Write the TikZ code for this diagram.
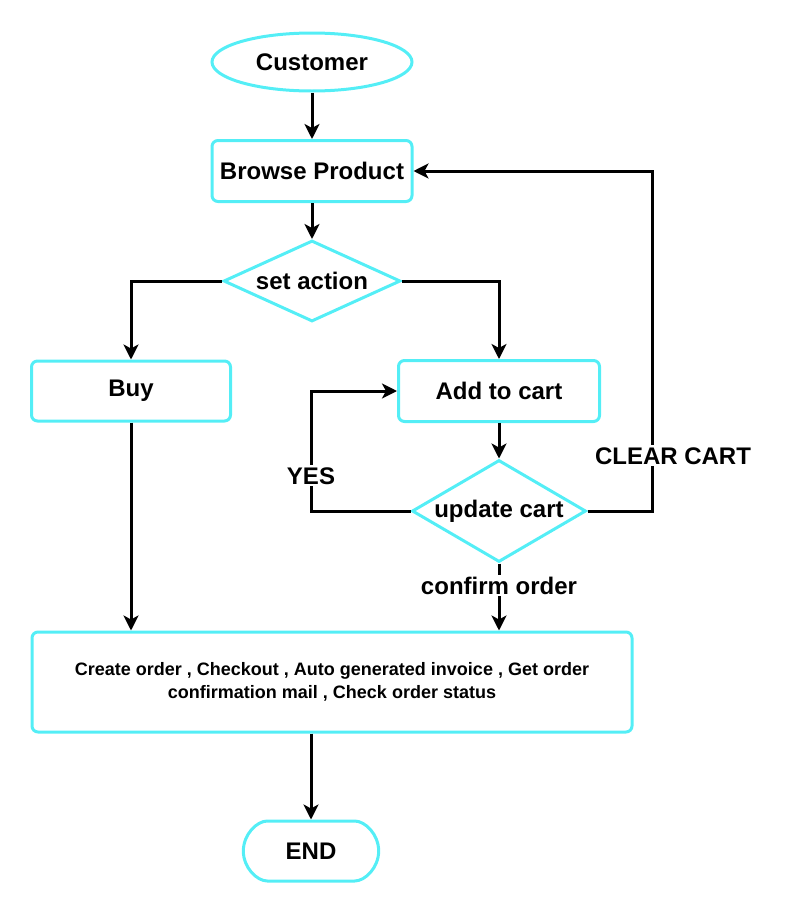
\documentclass[tikz,border=0pt]{standalone}
\usepackage{fontspec}
\setmainfont{Liberation Sans}
\usepackage{xcolor}
\usepackage{tikz}
\usetikzlibrary{shapes.geometric,shapes.misc,arrows.meta}
\definecolor{flowcyan}{RGB}{84,238,246}

\begin{document}
\begin{tikzpicture}[x=1pt,y=-1pt,
            box/.style={shape=rectangle, rounded corners=6pt, draw=flowcyan, line width=3pt, minimum width=200pt, minimum height=61pt, font=\fontsize{24}{28}\selectfont\bfseries},
            term/.style={shape=ellipse, draw=flowcyan, line width=3pt, minimum width=200pt, minimum height=58pt, font=\fontsize{24}{28}\selectfont\bfseries},
            dia/.style={shape=diamond, draw=flowcyan, line width=3pt, inner sep=0pt, font=\fontsize{24}{28}\selectfont\bfseries},
            flow/.style={line width=3pt, -{Stealth[length=15pt,width=15pt,inset=4pt]}},
            lbl/.style={fill=white, inner sep=2pt, font=\fontsize{24}{28}\selectfont\bfseries}]
        \useasboundingbox (0,0) rectangle (797,913);

        \node[term] (cust) at (312,62) {Customer};
        \node[box] (browse) at (312,171) {Browse Product};
        \node[dia, minimum width=177pt, minimum height=81pt] (act) at (312,281) {\makebox[0pt]{set action}};
        \node[box, minimum width=199pt, minimum height=60pt] (buy) at (131,391) {Buy};
        \node[box, minimum width=201pt] (add) at (499,391) {Add to cart};
        \node[dia, minimum width=174pt, minimum height=102pt] (upd) at (499,511) {\makebox[0pt]{update cart}};
        \node[box, minimum width=600pt, minimum height=100pt, align=center, font=\fontsize{18}{23}\selectfont\bfseries] (order) at (332,682)
            {Create order , Checkout , Auto generated invoice , Get order\\confirmation mail , Check order status};
        \node[box, shape=rounded rectangle, minimum width=142pt, minimum height=60pt] (finish) at (311,851) {END};

        \coordinate (yesbend) at (311,511);
        \coordinate (clearbend) at (652,511);

        \draw[flow] (cust) -- (browse);
        \draw[flow] (browse) -- (act);
        \draw[flow] (act.west) -| (buy.north);
        \draw[flow] (act.east) -| (add.north);
        \draw[flow] (add) -- (upd);
        \draw[flow] (upd.west) -- (yesbend) |- node[lbl, pos=0.146] {YES} (add.west);
        \draw[flow] (upd.east) -- (clearbend) |- node[lbl, pos=0.081, xshift=21pt, inner xsep=0pt] {CLEAR CART} (browse.east);
        \draw[flow] (upd.south) -- node[lbl, pos=0.33] {confirm order} (upd.south |- order.north);
        \draw[flow] (buy.south) -- (buy.south |- order.north);
        \draw[flow] (order.south -| finish.north) -- (finish.north);
    \end{tikzpicture}
\end{document}
